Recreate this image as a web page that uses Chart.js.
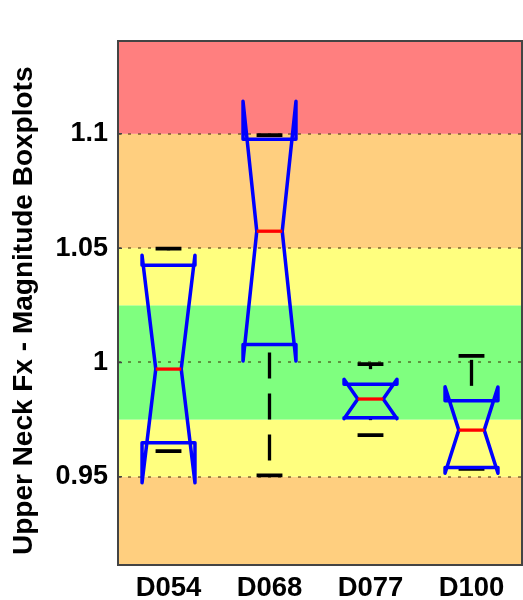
<!DOCTYPE html>
<html>
<head>
<meta charset="utf-8">
<script src="https://cdn.jsdelivr.net/npm/chart.js@4/dist/chart.umd.min.js"></script>
<style>
  html, body { margin: 0; padding: 0; background: #ffffff; }
  #wrap { width: 523px; height: 600px; position: relative; }
</style>
</head>
<body>
<div id="wrap"><canvas id="c"></canvas></div>
<script>
// ---------- data ----------
const categories  = ['D054', 'D068', 'D077', 'D100'];
const whiskerLow  = [0.9612, 0.9506, 0.9682, 0.9535];
const q1          = [0.9649, 1.0079, 0.9758, 0.9541];
const median      = [0.9971, 1.0574, 0.9840, 0.9704];
const q3          = [1.0425, 1.0976, 0.9905, 0.9832];
const whiskerHigh = [1.0498, 1.0994, 0.9993, 1.0029];
const notchLow    = [0.9474, 1.0006, 0.9754, 0.9515];
const notchHigh   = [1.0469, 1.1142, 0.9926, 0.9893];

const yMin = 0.9114;
const yMax = 1.1406;
const yTickValues = [0.95, 1.0, 1.05, 1.1];
const yTickLabels = ['0.95', '1', '1.05', '1.1'];
const yTitle = 'Upper Neck Fx - Magnitude Boxplots';

// rating bands (edges from bottom to top)
const bandEdges = [yMin, 0.95, 0.975, 1.025, 1.05, 1.1, yMax];

// ---------- styles ----------
const bandColors = ['#FFCF7F', '#FFFF7F', '#7FFF7F', '#FFFF7F', '#FFCF7F', '#FF7F7F'];
const FONT = '"Liberation Sans", Arial, Helvetica, sans-serif';

const bandPlugin = {
  id: 'bands',
  beforeDraw(chart) {
    const { ctx, chartArea: a, scales: { y } } = chart;
    ctx.save();
    ctx.beginPath();
    ctx.rect(a.left, a.top, a.right - a.left, a.bottom - a.top);
    ctx.clip();
    for (let i = 0; i < bandColors.length; i++) {
      const top = y.getPixelForValue(bandEdges[i + 1]);
      const bot = y.getPixelForValue(bandEdges[i]);
      ctx.fillStyle = bandColors[i];
      ctx.fillRect(a.left, top, a.right - a.left, bot - top);
    }
    ctx.restore();
  }
};

const boxPlugin = {
  id: 'notchedBoxes',
  afterDatasetsDraw(chart) {
    const { ctx, scales: { x, y } } = chart;
    const cw = (x.right - x.left) / categories.length;
    const fullHalf = 0.262 * cw;
    const narrowHalf = 0.126 * cw;
    const capHalf = 0.128 * cw;
    const Y = v => y.getPixelForValue(v);
    ctx.save();
    for (let i = 0; i < categories.length; i++) {
      const cx = x.getPixelForValue(i);
      // whiskers (dashed), drawn from lower end upward
      ctx.strokeStyle = '#000000';
      ctx.lineWidth = 3.3;
      ctx.lineCap = 'butt';
      ctx.setLineDash([26, 15]);
      ctx.lineDashOffset = 26;
      ctx.beginPath();
      ctx.moveTo(cx, Y(whiskerLow[i]));
      ctx.lineTo(cx, Y(q1[i]));
      ctx.stroke();
      ctx.beginPath();
      ctx.moveTo(cx, Y(q3[i]));
      ctx.lineTo(cx, Y(whiskerHigh[i]));
      ctx.stroke();
      ctx.setLineDash([]);
      // caps
      ctx.lineWidth = 3.8;
      ctx.beginPath();
      ctx.moveTo(cx - capHalf, Y(whiskerLow[i]));
      ctx.lineTo(cx + capHalf, Y(whiskerLow[i]));
      ctx.moveTo(cx - capHalf, Y(whiskerHigh[i]));
      ctx.lineTo(cx + capHalf, Y(whiskerHigh[i]));
      ctx.stroke();
      // notched box
      ctx.strokeStyle = '#0000FF';
      ctx.lineWidth = 3.5;
      ctx.lineJoin = 'round';
      ctx.beginPath();
      ctx.moveTo(cx - fullHalf, Y(q1[i]));
      ctx.lineTo(cx - fullHalf, Y(notchLow[i]));
      ctx.lineTo(cx - narrowHalf, Y(median[i]));
      ctx.lineTo(cx - fullHalf, Y(notchHigh[i]));
      ctx.lineTo(cx - fullHalf, Y(q3[i]));
      ctx.lineTo(cx + fullHalf, Y(q3[i]));
      ctx.lineTo(cx + fullHalf, Y(notchHigh[i]));
      ctx.lineTo(cx + narrowHalf, Y(median[i]));
      ctx.lineTo(cx + fullHalf, Y(notchLow[i]));
      ctx.lineTo(cx + fullHalf, Y(q1[i]));
      ctx.closePath();
      ctx.stroke();
      // median
      ctx.strokeStyle = '#FF0000';
      ctx.lineWidth = 3.3;
      ctx.beginPath();
      ctx.moveTo(cx - narrowHalf, Y(median[i]));
      ctx.lineTo(cx + narrowHalf, Y(median[i]));
      ctx.stroke();
    }
    ctx.restore();
  },
  afterDraw(chart) {
    const { ctx, chartArea: a, scales: { y } } = chart;
    ctx.save();
    ctx.strokeStyle = '#444444';
    ctx.lineWidth = 2;
    ctx.strokeRect(a.left, a.top, a.right - a.left, a.bottom - a.top);
    // short inward tick marks on the left border
    ctx.lineWidth = 1.5;
    ctx.beginPath();
    yTickValues.forEach(v => {
      const py = y.getPixelForValue(v);
      ctx.moveTo(a.left, py);
      ctx.lineTo(a.left + 4, py);
    });
    ctx.stroke();
    ctx.restore();
  }
};

new Chart(document.getElementById('c'), {
  type: 'bar',
  data: {
    labels: categories,
    datasets: [{
      data: categories.map((_, i) => [Math.min(whiskerLow[i], notchLow[i]), Math.max(whiskerHigh[i], notchHigh[i])]),
      backgroundColor: 'rgba(0,0,0,0)',
      borderWidth: 0
    }]
  },
  options: {
    responsive: true,
    maintainAspectRatio: false,
    animation: false,
    layout: { padding: { left: 0, right: 1, top: 41, bottom: 0 } },
    plugins: { legend: { display: false }, tooltip: { enabled: false } },
    scales: {
      x: {
        offset: true,
        grid: { display: false, drawTicks: false },
        border: { display: false },
        ticks: { color: '#000', padding: 7, font: { family: FONT, size: 27.5, weight: 'bold' } },
        afterFit: s => { s.height = 35; }
      },
      y: {
        min: yMin,
        max: yMax,
        afterBuildTicks: axis => { axis.ticks = yTickValues.map(v => ({ value: v })); },
        grid: {
          color: 'rgba(60,40,0,0.5)',
          lineWidth: 2,
          drawTicks: false
        },
        border: { display: false, dash: [3, 7] },
        ticks: {
          color: '#000',
          padding: 10,
          font: { family: FONT, size: 27, weight: 'bold' },
          callback: (v) => { const k = yTickValues.indexOf(v); return k >= 0 ? yTickLabels[k] : ''; }
        },
        title: {
          display: true,
          text: yTitle + '\u00A0\u00A0',
          color: '#000',
          font: { family: FONT, size: 28, weight: 'bold' },
          padding: { top: 7, bottom: 0 }
        },
        afterFit: s => { s.width = 118; }
      }
    }
  },
  plugins: [bandPlugin, boxPlugin]
});
</script>
</body>
</html>
